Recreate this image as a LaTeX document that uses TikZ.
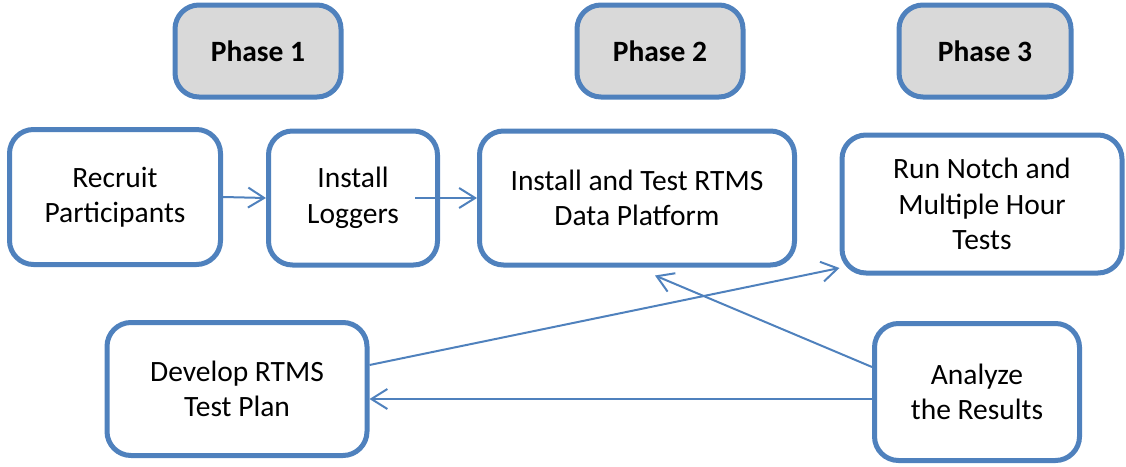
\documentclass[tikz,border=0pt]{standalone}
\usepackage{fontspec}
\setmainfont{Carlito}
\usepackage{tikz}
\usetikzlibrary{arrows.meta}
\usetikzlibrary{calc}

\definecolor{boxblue}{RGB}{79,129,189}
\definecolor{phasegray}{RGB}{217,217,217}

\tikzset{
  stage/.style={draw=boxblue, line width=5pt, rounded corners=24pt, fill=white,
    align=center, inner sep=0pt, font=\fontsize{29.5}{35.5}\selectfont},
  phase/.style={stage, fill=phasegray, minimum width=166pt, minimum height=92pt,
    font=\fontsize{29.5}{35.5}\selectfont\bfseries},
  link/.style={draw=boxblue, line width=2pt, ->}
}

\begin{document}
\begin{tikzpicture}[x=1pt,y=-1pt,>={Straight Barb[length=16pt,width=20pt]}]
    \useasboundingbox (0,0) rectangle (1126,466);
    \node[phase] (ph1) at (258,51) {Phase 1};
    \node[phase] (ph2) at (660,51) {Phase 2};
    \node[phase, minimum width=172pt] (ph3) at (985,51) {Phase 3};
    \node[stage, minimum width=211pt, minimum height=135pt] (rec) at (115,197) {Recruit\\Participants};
    \node[stage, minimum width=169pt, minimum height=134pt] (log) at (353,198) {Install\\Loggers};
    \node[stage, minimum width=315pt, minimum height=134pt] (ins) at (637,198) {Install and Test RTMS\\Data Platform};
    \node[stage, minimum width=280pt, minimum height=138pt] (run) at (982,204) {Run Notch and\\Multiple Hour\\Tests};
    \node[stage, minimum width=260pt, minimum height=133pt] (dev) at (237,389) {Develop RTMS\\Test Plan};
    \node[stage, minimum width=205pt, minimum height=137pt] (ana) at (977,392) {Analyze\\the Results};
    \draw [link] (rec.east) -- (log.west);
    \draw [link] ([xshift=-25pt]log.east) -- (ins.west);
    \draw [link] ([yshift=24pt]dev.east) -- ([yshift=-64pt]run.west);
    \draw [link] ([yshift=25pt]ana.west) -- ([shift={(18pt,-8pt)}]ins.south);
    \draw [link] ([yshift=-7pt]ana.west) -- ([yshift=-7pt]ana.west -| dev.east);
\end{tikzpicture}
\end{document}
